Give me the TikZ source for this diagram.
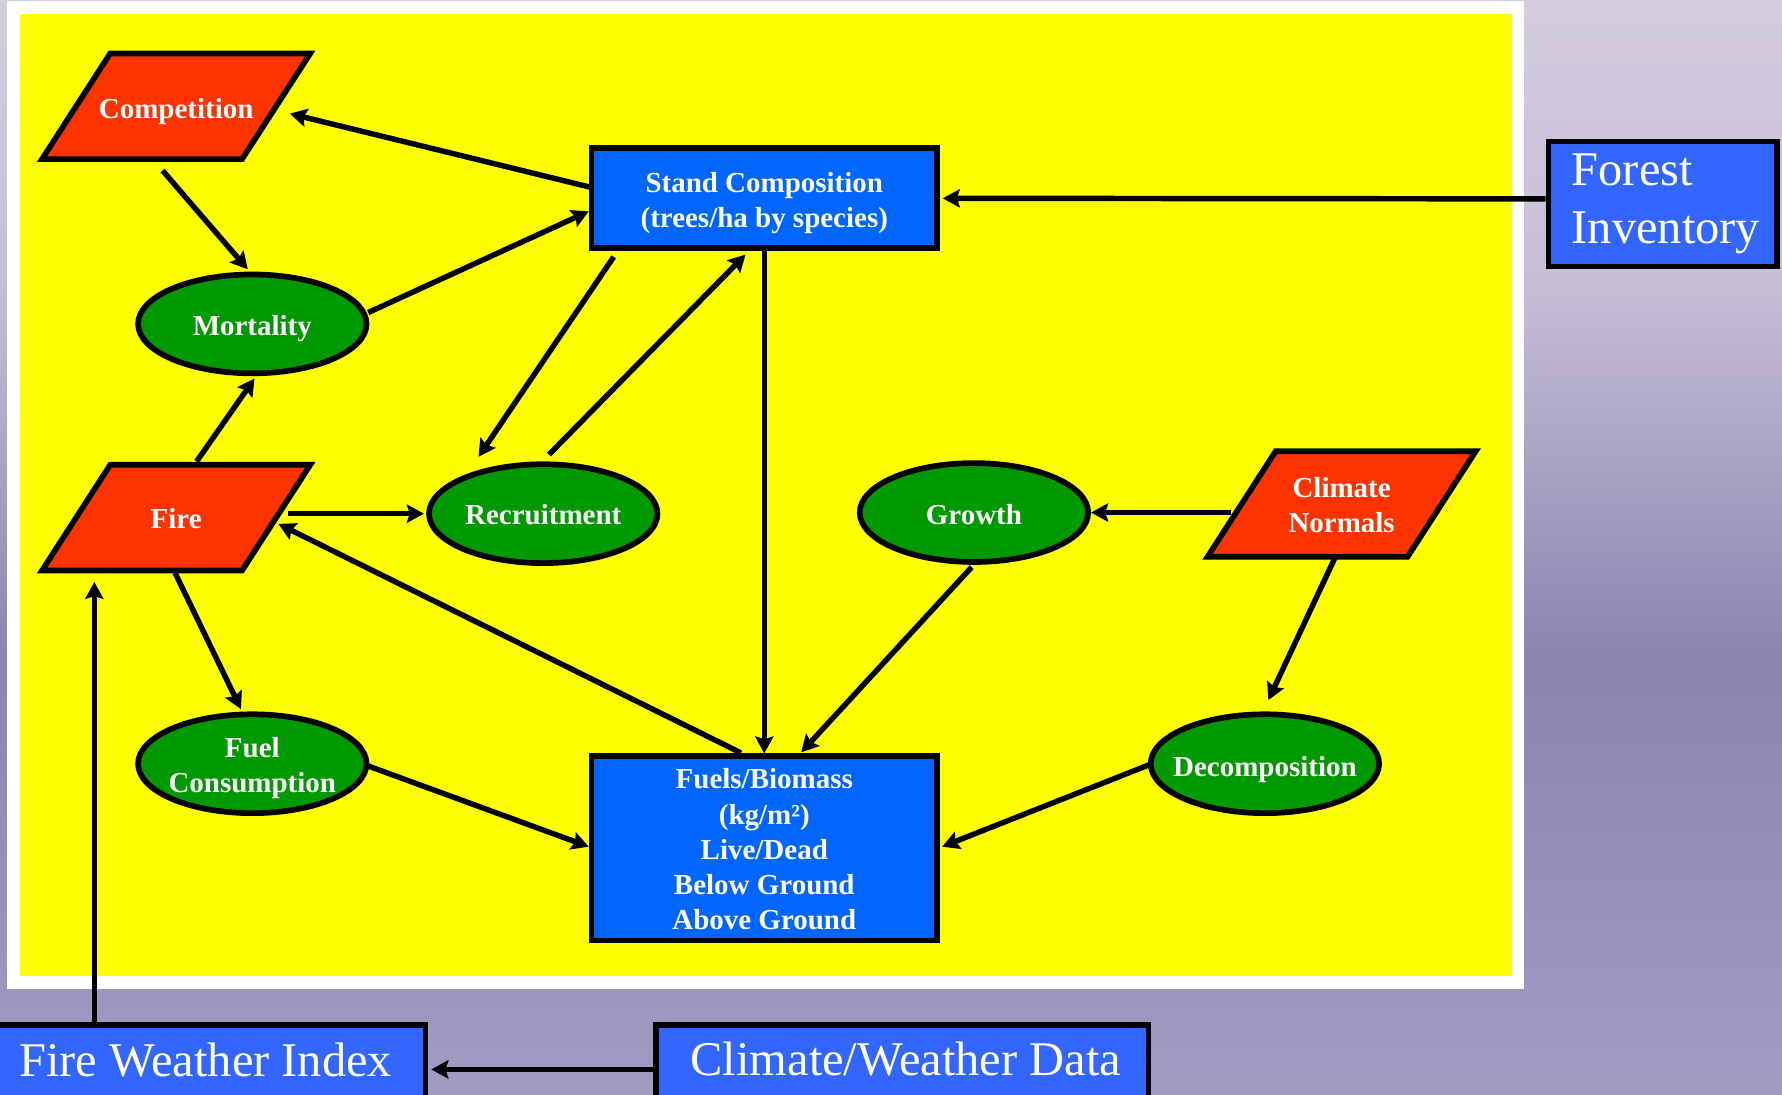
\documentclass[tikz,border=0pt]{standalone}
\usepackage{fontspec}
\setmainfont{Liberation Serif}
\usetikzlibrary{calc,arrows.meta,shapes.geometric}
\definecolor{yel}{HTML}{FFFF00}
\definecolor{sblue}{HTML}{0066FF}
\definecolor{oblue}{HTML}{3366FF}
\definecolor{fred}{HTML}{FF3300}
\definecolor{fgreen}{HTML}{009900}
\definecolor{c0}{HTML}{BDBAD3}
\definecolor{c1}{HTML}{A09CC2}
\definecolor{c2}{HTML}{8A85B1}
\definecolor{c3}{HTML}{C6BED6}
\definecolor{c4}{HTML}{DDD8E6}
\definecolor{c5}{HTML}{ECEBF3}
\pgfdeclareverticalshading{skyshade}{100bp}{color(0bp)=(c0); color(25bp)=(c1); color(45bp)=(c2); color(62bp)=(c3); color(85bp)=(c4); color(100bp)=(c5)}
\newcommand\mylbl{\fontsize{25.5}{31}\selectfont\bfseries}
\newcommand\mybig{\fontsize{42.6}{51}\selectfont}
\newcommand\paral[2]{\draw[parashape] (#1-58,#2-46.5) -- (#1+118,#2-46.5) -- (#1+58,#2+46.5) -- (#1-118,#2+46.5) -- cycle;}
\tikzset{
  conn/.style={line width=4.8pt, -{Stealth[length=15pt,width=16pt,inset=2.5pt]}},
  ell/.style={ellipse, draw, line width=5pt, fill=fgreen, minimum width=201pt, minimum height=87pt, inner sep=0pt},
  sbox/.style={rectangle, draw, line width=5pt, fill=sblue, inner sep=0pt},
  obox/.style={rectangle, draw, line width=5pt, fill=oblue, inner sep=0pt},
  plab/.style={inner sep=0pt, minimum width=236pt, minimum height=93pt},
  parashape/.style={draw, line width=5pt, fill=fred, line join=miter},
  lab/.style={inner sep=0pt, text=white, font=\mylbl, align=center},
  biglab/.style={inner sep=0pt, text=white, font=\mybig, align=center}
}
\begin{document}
\begin{tikzpicture}[x=1pt,y=-1pt]
\useasboundingbox (0,0) rectangle (1568,963);
\clip (0,0) rectangle (1568,963);
\shade[shading=skyshade] (0,0) rectangle (1568,963);
\fill[white] (6,1) rectangle (1341,870);
\fill[yel] (18,12) rectangle (1330,859);

% parallelogram shapes
\paral{155}{93.5}
\paral{155}{455.5}
\paral{1180.5}{443.5}

% nodes
\node[plab, label={[lab,yshift=-5pt]center:Competition}] (comp) at (155,93.5) {};
\node[plab, label={[lab,yshift=-1pt]center:Fire}] (fire) at (155,455.5) {};
\node[plab, label={[lab,yshift=-1pt]center:{Climate\\Normals}}] (cn) at (1180.5,443.5) {};
\node[sbox, minimum width=304pt, minimum height=88pt,
      label={[lab,yshift=-4pt]center:{Stand Composition\\(trees/ha by species)}}] (sc) at (672.5,174.5) {};
\node[sbox, minimum width=304pt, minimum height=162pt,
      label={[lab,yshift=-1pt]center:{Fuels/Biomass\\(kg/m²)\\Live/Dead\\Below Ground\\Above Ground}}] (fuels) at (672.5,746.5) {};
\node[ell, label={[lab,yshift=-4pt]center:Mortality}] (mort) at (222,285) {};
\node[ell, label={[lab,yshift=-1pt]center:Recruitment}] (recr) at (478,452) {};
\node[ell, label={[lab,yshift=-2pt]center:Growth}] (growth) at (857,451) {};
\node[ell, label={[lab,yshift=-3.5pt]center:{Fuel\\Consumption}}] (fc) at (222,672) {};
\node[ell, label={[lab,yshift=-5pt]center:Decomposition}] (decomp) at (1113,672) {};
\node[obox, minimum width=201pt, minimum height=110pt,
      label={[biglab,align=left,text width=160pt]center:{Forest\\Inventory}}] (fi) at (1463,179.5) {};
\node[obox, minimum width=377pt, minimum height=66pt,
      label={[biglab,xshift=-5pt,yshift=2pt]center:Fire Weather Index}] (fwi) at (186,935) {};
\node[obox, minimum width=433pt, minimum height=66pt,
      label={[biglab,xshift=3pt,yshift=3pt]center:Climate/Weather Data}] (cwd) at (794,935) {};

% connectors
\draw[conn] ($(sc.center)+(-152,-9.5)$) -- ($(comp.center)+(100,6.5)$);
\draw[conn] ($(comp.center)+(-12,56.5)$) -- ($(mort.center)+(-4,-48)$);
\draw[conn] ($(mort.center)+(102,-10)$) -- ($(sc.center)+(-154.5,11.5)$);
\draw[conn] ($(fire.center)+(18,-49.5)$) -- ($(mort.center)+(2,48)$);
\draw[conn] ($(fire.center)+(98,-3.5)$) -- ($(recr.center)+(-105,0)$);
\draw[conn] ($(sc.center)+(-132.5,51.5)$) -- ($(recr.center)+(-57,-50)$);
\draw[conn] ($(recr.center)+(5,-52)$) -- ($(sc.center)+(-16.5,49.5)$);
\draw[conn] (sc.south) -- (fuels.north);
\draw[conn] ($(fuels.center)+(-20.5,-84)$) -- ($(fire.center)+(90,5.5)$);
\draw[conn] ($(fire.center)+(-1,48.5)$) -- ($(fc.center)+(-10,-48)$);
\draw[conn] ($(fc.center)+(102,2)$) -- ($(fuels.center)+(-154.5,-1.5)$);
\draw[conn] ($(growth.center)+(-2,48)$) -- ($(fuels.center)+(32.5,-84.5)$);
\draw[conn] ($(cn.center)+(-97.5,7.5)$) -- ($(growth.center)+(103,0)$);
\draw[conn] ($(cn.center)+(-5.5,46.5)$) -- ($(decomp.center)+(3,-56)$);
\draw[conn] ($(decomp.center)+(-102,1)$) -- ($(fuels.center)+(156.5,-1.5)$);
\draw[conn] ($(fi.west)+(0,-4.5)$) -- ($(sc.east)+(2.5,0)$);
\draw[conn] ($(fwi.center)+(-103,-33)$) -- ($(fire.center)+(-72,56.5)$);
\draw[conn] ($(cwd.west)+(0,6)$) -- ($(fwi.east)+(2.5,6)$);
\end{tikzpicture}
\end{document}
